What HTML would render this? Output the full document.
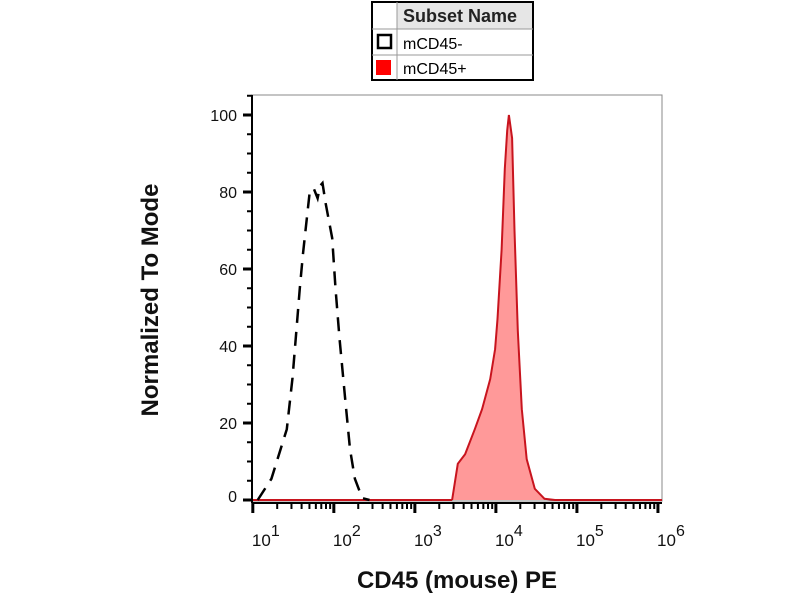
<!DOCTYPE html>
<html><head><meta charset="utf-8"><style>
body{margin:0;background:#fff;font-family:"Liberation Sans",sans-serif}
</style></head><body>
<svg width="800" height="600" xmlns="http://www.w3.org/2000/svg">
<g id="legend">
<rect x="372" y="2" width="161" height="78" fill="#fff" stroke="#000" stroke-width="2"/>
<rect x="397" y="3" width="135" height="26" fill="#e6e6e6"/>
<line x1="397" y1="2" x2="397" y2="80" stroke="#999"/>
<line x1="372" y1="29" x2="533" y2="29" stroke="#999"/>
<line x1="372" y1="55" x2="533" y2="55" stroke="#999"/>
<text x="403" y="22" font-size="18" font-weight="bold" fill="#222">Subset Name</text>
<rect x="378" y="35" width="13" height="13" fill="#fff" stroke="#000" stroke-width="2.5"/>
<text x="403" y="49" font-size="16">mCD45-</text>
<rect x="376" y="60" width="15" height="15" fill="#f00"/>
<text x="403" y="74" font-size="16">mCD45+</text>
</g>
<rect x="252" y="95" width="410" height="406" fill="none" stroke="#888" stroke-width="1"/>
<g id="series"></g>
<g id="axes"></g>
<text x="158" y="300" font-size="24" font-weight="bold" text-anchor="middle" transform="rotate(-90 158 300)" fill="#111">Normalized To Mode</text>
<text x="457" y="588" font-size="24" font-weight="bold" text-anchor="middle" fill="#111">CD45 (mouse) PE</text>
</svg>
<script>
const negLog=[1.06,1.23,1.42,1.49,1.54,1.58,1.62,1.65,1.70,1.75,1.80,1.83,1.86,1.90,1.98,2.02,2.07,2.14,2.20,2.26,2.35,2.44];
const negVal=[0,5.5,18.4,31.7,44.7,55,64,70,79.5,81,78.4,81.6,82.3,77,68,55,42,26.2,13.2,5.5,0.5,0];
const posLog=[3.46,3.53,3.62,3.74,3.83,3.93,3.99,4.02,4.07,4.11,4.14,4.16,4.20,4.23,4.27,4.32,4.38,4.48,4.60,4.73];
const posVal=[0,9.4,11.9,18.4,23.6,31.4,39.2,47,65,86,96,100,94,70,44,23.6,10.6,2.9,0.3,0];
const yTicks=[0,20,40,60,80,100];
const xDecades=[1,2,3,4,5,6];
const NS='http://www.w3.org/2000/svg';
const X0=252,X1=662,LMIN=0.99,LMAX=6.05;
function xs(l){return X0+(l-LMIN)/(LMAX-LMIN)*(X1-X0);}
function ys(v){return 500-v*3.85;}
function mk(t,a,p){const e=document.createElementNS(NS,t);for(const k in a)e.setAttribute(k,a[k]);p.appendChild(e);return e;}
const S=document.getElementById('series'),A=document.getElementById('axes');
let d='M'+X0+','+ys(0)+' L'+xs(posLog[0])+','+ys(0);
posLog.forEach((l,i)=>{d+=' L'+xs(l).toFixed(1)+','+ys(posVal[i]).toFixed(1);});
d+=' L'+X1+','+ys(0);
const pf=mk('path',{d:d+' Z',fill:'#f99',stroke:'none'},S);


const pl=mk('path',{d:d,fill:'none',stroke:'#c8141e','stroke-width':2},S);


let dn='';
negLog.forEach((l,i)=>{dn+=(i?' L':'M')+xs(l).toFixed(1)+','+ys(negVal[i]).toFixed(1);});
const nl=mk('path',{d:dn,fill:'none',stroke:'#000','stroke-width':2.5,'stroke-dasharray':'14,9'},S);


mk('line',{x1:X0,y1:95,x2:X0,y2:503,stroke:'#000','stroke-width':2},A);
mk('line',{x1:X0,y1:503,x2:X1,y2:503,stroke:'#000','stroke-width':2},A);
for(let v=0;v<=105;v+=5){mk('line',{x1:X0-(v%20==0?9:5),y1:ys(v),x2:X0,y2:ys(v),stroke:'#000','stroke-width':v%20==0?3:2},A);}
yTicks.forEach(v=>{const t=mk('text',{x:237,y:ys(v)+6-(v==0?4:0),'font-size':16,'text-anchor':'end',fill:'#111'},A);t.textContent=v;

});
for(let dec=0;dec<=6;dec++){for(let m=1;m<10;m++){const l=dec+Math.log10(m);if(l<LMIN||l>LMAX)continue;
mk('line',{x1:xs(l),y1:503,x2:xs(l),y2:503+(m==1?10:6),stroke:'#000','stroke-width':m==1?3:2},A);}}
xDecades.forEach(p=>{const t=mk('text',{x:xs(p)+13,y:546,'font-size':17,'text-anchor':'middle',fill:'#111'},A);


t.textContent='10';const s=mk('tspan',{dy:-10,'font-size':16},t);s.textContent=p;});
</script>
</body></html>
